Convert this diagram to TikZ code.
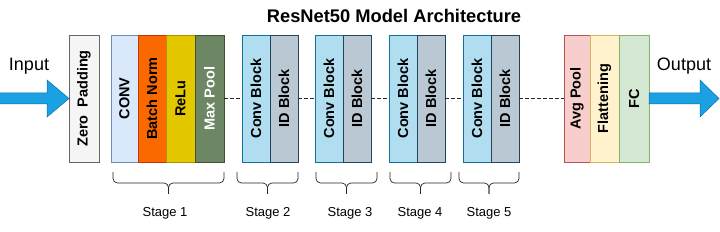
\documentclass[tikz,border=0pt]{standalone}
\usepackage{fontspec}
\setmainfont{Liberation Sans}
\usepackage{graphicx}
\usetikzlibrary{positioning,calc}

\definecolor{zpfill}{HTML}{F5F5F5}
\definecolor{zpline}{HTML}{666666}
\definecolor{convfill}{HTML}{DAE8FC}
\definecolor{convline}{HTML}{6C8EBF}
\definecolor{bnfill}{HTML}{FA6800}
\definecolor{bnline}{HTML}{C73500}
\definecolor{relufill}{HTML}{E3C800}
\definecolor{reluline}{HTML}{B09500}
\definecolor{mpfill}{HTML}{6D8764}
\definecolor{mpline}{HTML}{3A5431}
\definecolor{cbfill}{HTML}{B1DDF0}
\definecolor{cbline}{HTML}{10739E}
\definecolor{idfill}{HTML}{BAC8D3}
\definecolor{idline}{HTML}{23445D}
\definecolor{avgfill}{HTML}{F8CECC}
\definecolor{avgline}{HTML}{B85450}
\definecolor{flatfill}{HTML}{FFF2CC}
\definecolor{flatline}{HTML}{D6B656}
\definecolor{fcfill}{HTML}{D5E8D4}
\definecolor{fcline}{HTML}{82B366}
\definecolor{arrowfill}{HTML}{1BA1E2}
\definecolor{arrowline}{HTML}{006EAF}

% curly brace under a stage: #1 left end, #2 right end (same height)
\newcommand{\stagebrace}[2]{%
  \draw[bracepath] (#1) -- ++(0,11) -| ($(#1)!0.5!(#2)+(0,22)$);
  \draw[bracepath] (#2) -- ++(0,11) -| ($(#1)!0.5!(#2)+(0,22)$);
}

\begin{document}
\begin{tikzpicture}[
    x=1pt, y=-1pt, node distance=0pt,
    blk/.style={draw, line width=0.8pt, outer sep=0pt, inner sep=0pt,
                minimum width=28pt, minimum height=127pt,
                font=\fontsize{14.5}{16}\selectfont\bfseries},
    dashln/.style={draw=black!85, line width=0.7pt, dash pattern=on 3.5pt off 2.5pt},
    bracepath/.style={draw=black!85, line width=0.7pt, rounded corners=4.5pt},
    stagelbl/.style={font=\fontsize{13}{15}\selectfont},
    iolbl/.style={font=\fontsize{18}{20}\selectfont},
    bigarrow/.style={fill=arrowfill, draw=arrowline, line width=0.5pt}
  ]
  \useasboundingbox (0,0) rectangle (720,232);

  \node[font=\fontsize{18.3}{20}\selectfont\bfseries] (title) at (394,16) {ResNet50 Model Architecture};

  % input side
  \node[blk, fill=zpfill, draw=zpline, minimum width=30pt, anchor=north west] (zp) at (69,35) {\rotatebox{90}{Zero\ \ Padding}};
  \node[iolbl] (inlbl) at (29,66) {Input};
  \filldraw[bigarrow] (zp.west) -- ++(-22,-18.5) -- ++(0,13) -- ++(-48,0) -- ++(0,11) -- ++(48,0) -- ++(0,13) -- cycle;

  % stage 1
  \node[blk, fill=convfill, draw=convline, minimum width=27pt, anchor=north west] (conv) at (111,35) {\rotatebox{90}{CONV}};
  \node[blk, fill=bnfill, draw=bnline, right=of conv] (bn) {\rotatebox{90}{Batch Norm}};
  \node[blk, fill=relufill, draw=reluline, minimum width=29pt, right=of bn] (relu) {\rotatebox{90}{ReLu}};
  \node[blk, fill=mpfill, draw=mpline, minimum width=29pt, text=white, right=of relu] (mp) {\rotatebox{90}{Max Pool}};

  % stages 2 to 5
  \node[blk, fill=cbfill, draw=cbline, anchor=north west] (cb2) at (242,35) {\rotatebox{90}{Conv Block}};
  \node[blk, fill=idfill, draw=idline, right=of cb2] (id2) {\rotatebox{90}{ID Block}};
  \node[blk, fill=cbfill, draw=cbline, anchor=north west] (cb3) at (315,35) {\rotatebox{90}{Conv Block}};
  \node[blk, fill=idfill, draw=idline, right=of cb3] (id3) {\rotatebox{90}{ID Block}};
  \node[blk, fill=cbfill, draw=cbline, anchor=north west] (cb4) at (389,35) {\rotatebox{90}{Conv Block}};
  \node[blk, fill=idfill, draw=idline, right=of cb4] (id4) {\rotatebox{90}{ID Block}};
  \node[blk, fill=cbfill, draw=cbline, anchor=north west] (cb5) at (463,35) {\rotatebox{90}{Conv Block}};
  \node[blk, fill=idfill, draw=idline, right=of cb5] (id5) {\rotatebox{90}{ID Block}};

  % head
  \node[blk, fill=avgfill, draw=avgline, minimum width=26pt, anchor=north west] (avg) at (564,35) {\rotatebox{90}{Avg Pool}};
  \node[blk, fill=flatfill, draw=flatline, minimum width=29pt, right=of avg] (flat) {\rotatebox{90}{Flattening}};
  \node[blk, fill=fcfill, draw=fcline, minimum width=30pt, right=of flat] (fc) {\rotatebox{90}{FC}};

  % output side
  \node[iolbl] (outlbl) at (684,66) {Output};
  \filldraw[bigarrow] (fc.east) ++(0,-5.5) -- ++(51,0) -- ++(0,-13) -- ++(19,18.5) -- ++(-19,18.5) -- ++(0,-13) -- ++(-51,0) -- cycle;

  \draw[dashln] (mp) -- (cb2);
  \draw[dashln] (id2) -- (cb3);
  \draw[dashln] (id3) -- (cb4);
  \draw[dashln] (id4) -- (cb5);
  \draw[dashln] (id5) -- (avg);

  % braces
  \coordinate (b1l) at ([yshift=-10pt,xshift=2pt]conv.south west);
  \coordinate (b1r) at ([yshift=-10pt]mp.south east);
  \coordinate (b2l) at ([yshift=-10pt,xshift=-5pt]cb2.south west);
  \coordinate (b2r) at ([yshift=-10pt]id2.south east);
  \coordinate (b3l) at ([yshift=-10pt,xshift=1pt]cb3.south west);
  \coordinate (b3r) at ([yshift=-10pt,xshift=6pt]id3.south east);
  \coordinate (b4l) at ([yshift=-10pt,xshift=1pt]cb4.south west);
  \coordinate (b4r) at ([yshift=-10pt,xshift=6pt]id4.south east);
  \coordinate (b5l) at ([yshift=-10pt,xshift=-4pt]cb5.south west);
  \coordinate (b5r) at ([yshift=-10pt]id5.south east);
  \stagebrace{b1l}{b1r}
  \stagebrace{b2l}{b2r}
  \stagebrace{b3l}{b3r}
  \stagebrace{b4l}{b4r}
  \stagebrace{b5l}{b5r}

  \node[stagelbl] (s1) at (165,213) {Stage 1};
  \node[stagelbl] (s2) at (268,213) {Stage 2};
  \node[stagelbl] (s3) at (350,213) {Stage 3};
  \node[stagelbl] (s4) at (420,213) {Stage 4};
  \node[stagelbl] (s5) at (489,213) {Stage 5};
\end{tikzpicture}
\end{document}
